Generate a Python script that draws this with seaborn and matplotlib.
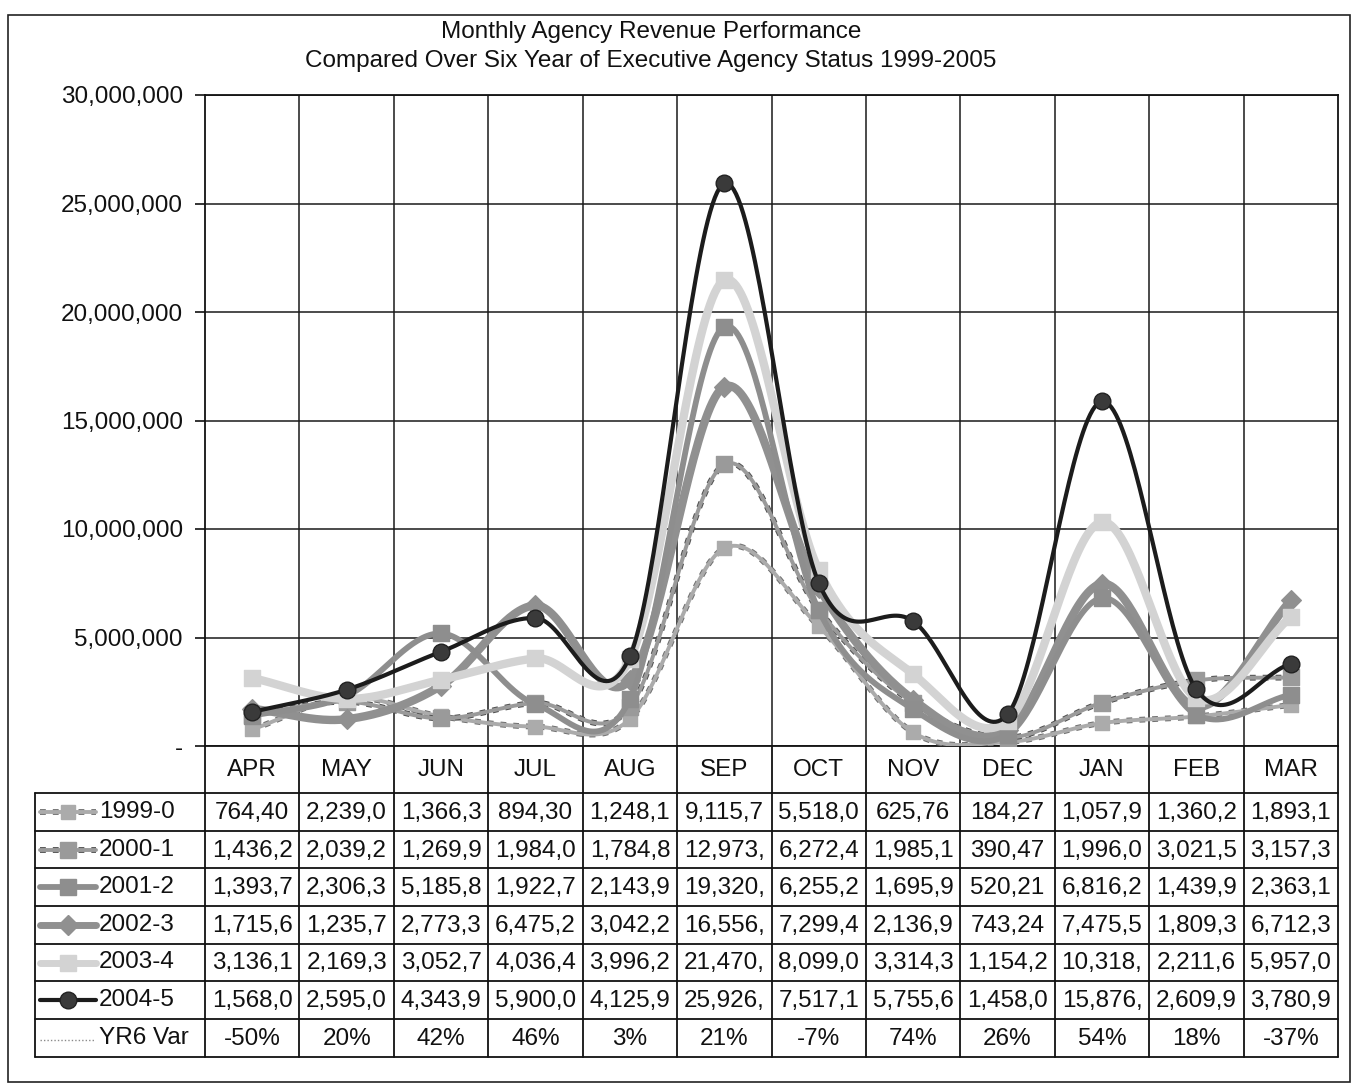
import numpy as np
import pandas as pd
import matplotlib
matplotlib.use("Agg")
import matplotlib.pyplot as plt
from matplotlib.patches import Rectangle
import seaborn as sns

months = ["APR", "MAY", "JUN", "JUL", "AUG", "SEP", "OCT", "NOV", "DEC", "JAN", "FEB", "MAR"]
series_names = ["1999-0", "2000-1", "2001-2", "2002-3", "2003-4", "2004-5"]

rev_1999 = [764400, 2239000, 1366300, 894300, 1248100, 9115700, 5518000, 625760, 184270, 1057900, 1360200, 1893100]
rev_2000 = [1436200, 2039200, 1269900, 1984000, 1784800, 12973000, 6272400, 1985100, 390470, 1996000, 3021500, 3157300]
rev_2001 = [1393700, 2306300, 5185800, 1922700, 2143900, 19320000, 6255200, 1695900, 520210, 6816200, 1439900, 2363100]
rev_2002 = [1715600, 1235700, 2773300, 6475200, 3042200, 16556000, 7299400, 2136900, 743240, 7475500, 1809300, 6712300]
rev_2003 = [3136100, 2169300, 3052700, 4036400, 3996200, 21470000, 8099000, 3314300, 1154200, 10318000, 2211600, 5957000]
rev_2004 = [1568000, 2595000, 4343900, 5900000, 4125900, 25926000, 7517100, 5755600, 1458000, 15876000, 2609900, 3780900]
yr6_var = [-50, 20, 42, 46, 3, 21, -7, 74, 26, 54, 18, -37]

revenues = [rev_1999, rev_2000, rev_2001, rev_2002, rev_2003, rev_2004]

y_ticks = [0, 5000000, 10000000, 15000000, 20000000, 25000000, 30000000]
y_tick_labels = ["-", "5,000,000", "10,000,000", "15,000,000", "20,000,000", "25,000,000", "30,000,000"]

title_lines = ["Monthly Agency Revenue Performance",
               "Compared Over Six Year of Executive Agency Status 1999-2005"]

# series styling: colour, line width, marker, marker size, marker face, dotted edge colour
styles = {
    "1999-0": dict(color="#ababab", lw=2.8, marker="s", ms=10, mfc="#ababab", edge="#707070"),
    "2000-1": dict(color="#9a9a9a", lw=2.8, marker="s", ms=11, mfc="#9a9a9a", edge="#505050"),
    "2001-2": dict(color="#8e8e8e", lw=4.2, marker="s", ms=11, mfc="#8e8e8e", edge=None),
    "2002-3": dict(color="#909090", lw=6.0, marker="D", ms=10, mfc="#909090", edge=None),
    "2003-4": dict(color="#d3d3d3", lw=6.0, marker="s", ms=11, mfc="#d3d3d3", edge=None),
    "2004-5": dict(color="#1c1c1c", lw=3.0, marker="o", ms=12, mfc="#3a3a3a", edge=None),
}

sns.set_theme(style="white")
plt.rcParams["font.family"] = ["Liberation Sans", "DejaVu Sans"]
FS = 17.5

W, H = 1354, 1091
fig = plt.figure(figsize=(W / 100, H / 100), dpi=100)
fig.patch.set_facecolor("white")

L, R, T, B = 205, 1338, 95, 746
ax = fig.add_axes([L / W, 1 - B / H, (R - L) / W, (B - T) / H])
ax.set_facecolor("white")


def smooth(xs, ys, n=40):
    """Catmull-Rom curve through the points, the way spreadsheet 'smoothed lines' draw."""
    xs = np.asarray(xs, float)
    ys = np.asarray(ys, float)
    m = np.empty_like(ys)
    m[1:-1] = (ys[2:] - ys[:-2]) / 2.0
    m[0] = ys[1] - ys[0]
    m[-1] = ys[-1] - ys[-2]
    out_x, out_y = [], []
    for i in range(len(xs) - 1):
        t = np.linspace(0, 1, n, endpoint=(i == len(xs) - 2))
        h00 = 2 * t**3 - 3 * t**2 + 1
        h10 = t**3 - 2 * t**2 + t
        h01 = -2 * t**3 + 3 * t**2
        h11 = t**3 - t**2
        out_x.append(xs[i] + t * (xs[i + 1] - xs[i]))
        out_y.append(h00 * ys[i] + h10 * m[i] + h01 * ys[i + 1] + h11 * m[i + 1])
    return np.concatenate(out_x), np.concatenate(out_y)


x_pos = np.arange(len(months))

# variance series in percent: at this scale it lies on the baseline
var_df = pd.DataFrame({"x": x_pos, "y": np.array(yr6_var) * 0.0})
sns.lineplot(data=var_df, x="x", y="y", ax=ax, color="#8a8a8a", lw=1.0,
             linestyle=(0, (1, 1.5)), zorder=2)

for k, (name, vals) in enumerate(zip(series_names, revenues)):
    st = styles[name]
    sx, sy = smooth(x_pos, vals)
    curve = pd.DataFrame({"x": sx, "y": sy})
    z = 3 + k if name != "2002-3" else 4.5
    if name == "2004-5":
        z = 10
    if st["edge"] is not None:
        sns.lineplot(data=curve, x="x", y="y", ax=ax, sort=False, estimator=None,
                     color=st["edge"], lw=st["lw"] + 1.4, linestyle=(0, (1, 1.2)), zorder=z)
    sns.lineplot(data=curve, x="x", y="y", ax=ax, sort=False, estimator=None,
                 color=st["color"], lw=st["lw"], zorder=z + 0.1)
    pts = pd.DataFrame({"x": x_pos, "y": vals})
    sns.scatterplot(data=pts, x="x", y="y", ax=ax, marker=st["marker"],
                    s=st["ms"] ** 2, color=st["mfc"],
                    edgecolor="#222222" if name == "2004-5" else st["color"],
                    linewidth=1.0, zorder=z + 0.2)

ax.set_xlim(-0.5, len(months) - 0.5)
ax.set_ylim(0, 30000000)
ax.set_yticks(y_ticks)
ax.set_yticklabels(y_tick_labels, fontsize=FS, color="#111111")
ax.set_xticks([])
ax.set_xticks(np.arange(len(months) - 1) + 0.5, minor=True)
ax.set_xlabel("")
ax.set_ylabel("")
ax.tick_params(axis="y", which="major", length=7, width=1.2, color="#111111",
               direction="out", pad=9, left=True)
ax.tick_params(axis="x", which="minor", length=0)
ax.grid(True, axis="y", which="major", color="#1a1a1a", lw=1.1)
ax.grid(True, axis="x", which="minor", color="#1a1a1a", lw=1.1)
ax.set_axisbelow(True)
for sp in ax.spines.values():
    sp.set_visible(True)
    sp.set_color("#111111")
    sp.set_linewidth(1.3)

# title
for i, line in enumerate(title_lines):
    fig.text(651 / W, 1 - (32 + 29 * i) / H, line, ha="center", va="center",
             fontsize=FS, color="#111111")

# data table beneath the plot, drawn in pixel space
tab = fig.add_axes([0, 0, 1, 1], zorder=-1)
tab.set_xlim(0, W)
tab.set_ylim(H, 0)
tab.axis("off")
tab.patch.set_alpha(0)

col_w = (R - L) / len(months)
col_edges = [L + i * col_w for i in range(len(months) + 1)]
row_edges = [793, 831, 868, 906, 944, 981, 1019, 1057]
TL = 35
line_kw = dict(color="#111111", lw=1.3)

for x in col_edges:
    tab.plot([x, x], [B, row_edges[-1]], **line_kw)
tab.plot([TL, TL], [row_edges[0], row_edges[-1]], **line_kw)
for y in row_edges:
    tab.plot([TL, R], [y, y], **line_kw)

for j, mname in enumerate(months):
    tab.text(L + (j + 0.5) * col_w, (B + row_edges[0]) / 2 + 1, mname,
             ha="center", va="center", fontsize=FS, color="#111111")


def cell_text(v):
    s = f"{v:,}"
    out, digits = "", 0
    for ch in s:
        if digits == 5:
            if ch == ",":
                out += ch
            break
        out += ch
        if ch.isdigit():
            digits += 1
    return out


row_labels = series_names + ["YR6 Var"]
for r, label in enumerate(row_labels):
    yc = (row_edges[r] + row_edges[r + 1]) / 2
    tab.text(99, yc, label, ha="left", va="center", fontsize=FS, color="#111111")
    if label == "YR6 Var":
        tab.plot([40, 94], [yc + 2, yc + 2], color="#8a8a8a", lw=1.0, linestyle=(0, (1, 1.5)))
        cells = [f"{v}%" for v in yr6_var]
    else:
        st = styles[label]
        if st["edge"] is not None:
            tab.plot([40, 96], [yc, yc], color=st["edge"], lw=st["lw"] + 1.4,
                     linestyle=(0, (1, 1.2)))
        tab.plot([40, 96], [yc, yc], color=st["color"], lw=min(st["lw"], 5))
        tab.plot([68], [yc], marker=st["marker"], ms=st["ms"], color=st["mfc"],
                 mec="#222222" if label == "2004-5" else st["color"])
        cells = [cell_text(v) for v in revenues[r]]
    for j, txt in enumerate(cells):
        tab.text(L + (j + 0.5) * col_w, yc + 1, txt, ha="center", va="center",
                 fontsize=FS, color="#111111")

# outer frame of the chart sheet
tab.add_patch(Rectangle((8, 15), 1342, 1067, fill=False, edgecolor="#222222", lw=1.2))

fig.savefig("out.png", dpi=100, facecolor="white")
